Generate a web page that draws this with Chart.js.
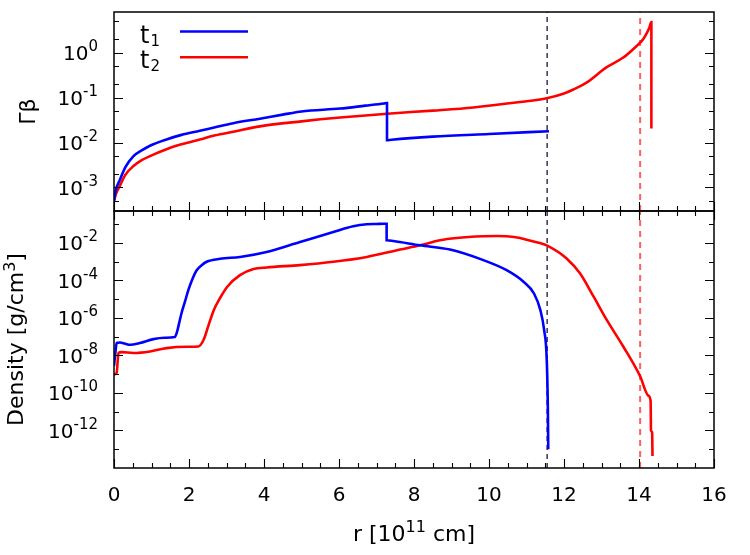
<!DOCTYPE html>
<html><head><meta charset="utf-8">
<script src="https://cdn.jsdelivr.net/npm/chart.js@4.4.1/dist/chart.umd.min.js"></script>
<style>
html,body{margin:0;padding:0;background:#fff;}
#wrap{position:relative;width:750px;height:555px;background:#fff;}
#wrap canvas{position:absolute;left:0;top:0;}
</style></head><body>
<div id="wrap"><canvas id="cTop" width="750" height="555"></canvas><canvas id="cBot" width="750" height="555"></canvas></div>
<script>
// ---------------- data ----------------
const seriesNames = ['t', 't'];
const seriesSubs = ['1', '2'];
const seriesColors = ['#0000ff', '#ff0000'];

// Top panel: Gamma*beta vs r [1e11 cm]
const rGammaT1 = [0, 0.05, 0.16, 0.3, 0.52, 0.75, 0.96, 1.4, 1.8, 2.29, 2.7, 3.18, 3.89, 4.5, 5.0, 6.03, 6.7, 7.2, 7.28, 7.28, 7.4, 8.5, 10.0, 11.6];
const gammaT1  = [5.0e-4, 8.9e-4, 1.5e-3, 2.8e-3, 5.0e-3, 6.8e-3, 8.5e-3, 1.17e-2, 1.48e-2, 1.82e-2, 2.19e-2, 2.69e-2, 3.39e-2, 4.17e-2, 4.9e-2, 5.69e-2, 6.61e-2, 7.41e-2, 7.59e-2, 1.12e-2, 1.15e-2, 1.35e-2, 1.55e-2, 1.78e-2];
const rGammaT2 = [0, 0.05, 0.16, 0.3, 0.52, 0.75, 0.96, 1.4, 1.8, 2.29, 2.7, 3.18, 3.89, 5.0, 6.03, 7.29, 8.5, 9.58, 10.83, 11.54, 12.0, 12.25, 12.6, 13.13, 13.58, 13.85, 14.03, 14.12, 14.2, 14.27, 14.33, 14.33];
const gammaT2  = [5.0e-4, 7.1e-4, 1.1e-3, 1.9e-3, 3.0e-3, 4.1e-3, 5.0e-3, 7.1e-3, 9.1e-3, 1.17e-2, 1.45e-2, 1.74e-2, 2.29e-2, 2.95e-2, 3.59e-2, 4.37e-2, 5.13e-2, 6.03e-2, 7.94e-2, 9.64e-2, 0.123, 0.151, 0.214, 0.468, 0.776, 1.20, 1.66, 2.04, 2.63, 3.47, 4.79, 2.04e-2];

// Bottom panel: density [g/cm^3] vs r
const rDensT1 = [0, 0.03, 0.07, 0.16, 0.3, 0.43, 0.69, 1.05, 1.35, 1.62, 1.68, 1.74, 1.8, 1.9, 1.98, 2.1, 2.2, 2.34, 2.47, 2.83, 3.36, 4.07, 4.96, 5.85, 6.38, 6.74, 7.0, 7.2, 7.27, 7.27, 7.45, 8.16, 8.96, 9.85, 10.47, 10.92, 11.2, 11.37, 11.47, 11.54, 11.57, 11.58];
const densT1  = [2.8e-9, 1.0e-8, 4.6e-8, 4.9e-8, 4.2e-8, 3.7e-8, 4.6e-8, 7.4e-8, 8.7e-8, 9.5e-8, 1.78e-7, 5.6e-7, 1.78e-6, 8.3e-6, 2.95e-5, 1.32e-4, 3.4e-4, 6.5e-4, 9.8e-4, 1.41e-3, 1.78e-3, 3.3e-3, 1.12e-2, 3.8e-2, 7.6e-2, 9.8e-2, 0.102, 0.105, 0.105, 1.38e-2, 1.26e-2, 7.4e-3, 4.4e-3, 1.2e-3, 3.5e-4, 8.5e-5, 2.0e-5, 2.6e-6, 2.3e-7, 5.9e-9, 1.3e-11, 1.0e-13];
const rDensT2 = [0, 0.07, 0.12, 0.2, 0.52, 0.96, 1.4, 1.94, 2.25, 2.39, 2.52, 2.66, 2.84, 3.02, 3.36, 3.72, 4.07, 4.96, 5.85, 6.74, 7.63, 8.16, 8.69, 9.14, 9.85, 10.2, 10.47, 10.83, 11.0, 11.36, 11.54, 12.07, 12.43, 12.79, 13.14, 13.58, 14.03, 14.25, 14.31, 14.32, 14.35, 14.36];
const densT2  = [9.5e-10, 1.17e-9, 1.35e-8, 1.51e-8, 1.35e-8, 1.62e-8, 2.45e-8, 2.9e-8, 3.0e-8, 6.8e-8, 4.0e-7, 2.6e-6, 1.26e-5, 4.6e-5, 1.9e-4, 4.0e-4, 4.9e-4, 6.5e-4, 9.8e-4, 1.78e-3, 4.4e-3, 7.4e-3, 1.38e-2, 1.82e-2, 2.24e-2, 2.32e-2, 2.24e-2, 1.82e-2, 1.48e-2, 9.8e-3, 7.4e-3, 1.48e-3, 2.3e-4, 1.35e-5, 7.8e-7, 3.0e-8, 7.8e-10, 7.1e-11, 3.6e-11, 1.0e-12, 7.9e-13, 4.4e-14];

// vertical reference markers (r positions)
const markerR = [11.55, 14.03];
const markerColors = ['#000033', '#ff6060'];

// axes / ticks / titles
const xRange = [0, 16];
const xMajorTicks = [0, 2, 4, 6, 8, 10, 12, 14, 16];
const xMinorStep = 0.5;
const topYRange = [3e-4, 8];
const topYMajorExp = [-3, -2, -1, 0];
const topYMinor = [5e-4, 2e-3, 5e-3, 2e-2, 5e-2, 0.2, 0.5, 2, 5];
const botYRange = [1e-14, 0.5];
const botYMajorExp = [-12, -10, -8, -6, -4, -2];
const botYMinorExp = [-13, -11, -9, -7, -5, -3, -1];
const xTitle = [['r [10', 0], ['11', 1], [' cm]', 0]];
const topYTitle = [['\u0393\u03B2', 0]];
const botYTitle = [['Density [g/cm', 0], ['3', 1], [']', 0]];

const FONT = 'DejaVu Sans';

// ---------------- helpers ----------------
function toXY(xs, ys){ return xs.map((x,i)=>({x:x, y:ys[i]})); }

function markerSets(yr){
  return markerR.map((r,i)=>({
    label: 'marker'+i,
    data: [{x:r, y:yr[0]}, {x:r, y:yr[1]}],
    borderColor: markerColors[i],
    borderWidth: i===0 ? 1.2 : 2,
    borderDash: i===0 ? [5,4] : [6,5],
    pointRadius: 0,
    cubicInterpolationMode: 'default',
    tension: 0
  }));
}
function seriesSet(i, xs, ys){
  return {label: seriesNames[i] + seriesSubs[i], data: toXY(xs, ys), borderColor: seriesColors[i], borderWidth: 2.6,
          pointRadius: 0, cubicInterpolationMode: 'monotone', fill:false};
}

// draw text with superscript parts; returns nothing. origin: center-aligned at (0,0) baseline
function richText(ctx, parts, size, supSize, supRise){
  const widths = parts.map(([t, s]) => { ctx.font = (s ? supSize : size) + 'px "' + FONT + '"'; return ctx.measureText(t).width; });
  const total = widths.reduce((a,b)=>a+b, 0);
  let x = -total / 2;
  ctx.textAlign = 'left'; ctx.textBaseline = 'alphabetic';
  parts.forEach(([t, s], i) => {
    ctx.font = (s ? supSize : size) + 'px "' + FONT + '"';
    ctx.fillText(t, x, s ? -supRise : 0);
    x += widths[i];
  });
}

const frameTicks = {
  id: 'frameTicks',
  afterDatasetsDraw(chart, args, o){
    const ctx = chart.ctx, a = chart.chartArea, xs = chart.scales.x, ys = chart.scales.y;
    ctx.save();
    ctx.strokeStyle = '#000'; ctx.lineWidth = 1.5;
    ctx.strokeRect(a.left, a.top, a.right - a.left, a.bottom - a.top);
    ctx.lineWidth = 1.1;
    ctx.beginPath();
    for (let v = xRange[0]; v <= xRange[1] + 1e-9; v += xMinorStep){
      const px = Math.round(xs.getPixelForValue(v)) + 0.5;
      const len = xMajorTicks.includes(v) ? 9 : 5;
      if (o.xBottom){ ctx.moveTo(px, a.bottom); ctx.lineTo(px, a.bottom - len); }
      if (o.xTop){ ctx.moveTo(px, a.top); ctx.lineTo(px, a.top + len); }
    }
    const yt = [];
    o.major.forEach(e => yt.push([Math.pow(10, e), 9]));
    o.minor.forEach(v => yt.push([v, 5]));
    yt.forEach(([v, len]) => {
      const py = Math.round(ys.getPixelForValue(v)) + 0.5;
      if (py < a.top - 0.5 || py > a.bottom + 0.5) return;
      ctx.moveTo(a.left, py); ctx.lineTo(a.left + len, py);
      ctx.moveTo(a.right, py); ctx.lineTo(a.right - len, py);
    });
    ctx.stroke();
    // y tick labels: 10^k
    ctx.fillStyle = '#000';
    o.major.forEach(e => {
      const py = ys.getPixelForValue(Math.pow(10, e));
      const base = '10', ex = String(e);
      ctx.font = '20px "' + FONT + '"';
      const wb = ctx.measureText(base).width;
      ctx.font = '15px "' + FONT + '"';
      const we = ctx.measureText(ex).width;
      const right = a.left - 16;
      ctx.textBaseline = 'alphabetic'; ctx.textAlign = 'left';
      ctx.font = '20px "' + FONT + '"';
      ctx.fillText(base, right - we - wb, py + 7.5);
      ctx.font = '15px "' + FONT + '"';
      ctx.fillText(ex, right - we, py - 1.5);
    });
    // y axis title (rotated)
    ctx.save();
    ctx.translate(o.yTitleX, (a.top + a.bottom) / 2);
    ctx.rotate(-Math.PI / 2);
    richText(ctx, o.yTitle, 22, 16, 8);
    ctx.restore();
    // x axis title
    if (o.xTitle){
      ctx.save();
      ctx.translate((a.left + a.right) / 2, a.bottom + 73);
      richText(ctx, o.xTitle, 22, 16, 9);
      ctx.restore();
    }
    ctx.restore();
  }
};

const legendDraw = {
  id: 'legendDraw',
  afterDatasetsDraw(chart, args, o){
    if (!o.show) return;
    const ctx = chart.ctx, a = chart.chartArea;
    ctx.save();
    [0,1].forEach(i => {
      const ds = chart.data.datasets[i];
      const y = a.top + 19.5 + i * 25.7;
      ctx.fillStyle = '#000';
      ctx.textBaseline = 'alphabetic'; ctx.textAlign = 'left';
      ctx.font = '24px "' + FONT + '"';
      const x0 = a.left + 26;
      ctx.fillText(seriesNames[i], x0, y + 11);
      const wt = ctx.measureText(seriesNames[i]).width;
      ctx.font = '15px "' + FONT + '"';
      ctx.fillText(seriesSubs[i], x0 + wt + 1, y + 14);
      ctx.strokeStyle = ds.borderColor; ctx.lineWidth = 2.4;
      ctx.beginPath(); ctx.moveTo(a.left + 66, y); ctx.lineTo(a.left + 134, y); ctx.stroke();
    });
    ctx.restore();
  }
};

Chart.defaults.font.family = FONT;
Chart.defaults.color = '#000';

new Chart(document.getElementById('cTop'), {
  type: 'line',
  data: { datasets: [ seriesSet(0, rGammaT1, gammaT1), seriesSet(1, rGammaT2, gammaT2), ...markerSets(topYRange) ] },
  options: {
    responsive: false, animation: false,
    layout: { padding: { left: 0, top: 12, right: 36, bottom: 344 } },
    plugins: { legend: { display: false }, tooltip: { enabled: false },
      frameTicks: { xBottom: true, xTop: false, major: topYMajorExp, minor: topYMinor, yTitle: topYTitle, yTitleX: 35 },
      legendDraw: { show: true } },
    scales: {
      x: { type: 'linear', min: xRange[0], max: xRange[1], display: false },
      y: { type: 'logarithmic', min: topYRange[0], max: topYRange[1],
        afterFit(s){ s.width = 114; },
        ticks: { display: false }, grid: { display: false, drawTicks: false }, border: { display: false } }
    }
  },
  plugins: [frameTicks, legendDraw]
});

new Chart(document.getElementById('cBot'), {
  type: 'line',
  data: { datasets: [ seriesSet(0, rDensT1, densT1), seriesSet(1, rDensT2, densT2), ...markerSets(botYRange) ] },
  options: {
    responsive: false, animation: false,
    layout: { padding: { left: 0, top: 211, right: 36, bottom: 0 } },
    plugins: { legend: { display: false }, tooltip: { enabled: false },
      frameTicks: { xBottom: true, xTop: true, major: botYMajorExp, minor: botYMinorExp.map(e => Math.pow(10, e)),
        yTitle: botYTitle, yTitleX: 23, xTitle: xTitle },
      legendDraw: { show: false } },
    scales: {
      x: { type: 'linear', min: xRange[0], max: xRange[1],
        afterBuildTicks(s){ s.ticks = xMajorTicks.map(v => ({value: v})); },
        afterFit(s){ s.height = 87; },
        ticks: { font: { size: 20, family: FONT }, color: '#000', padding: 16, maxRotation: 0, autoSkip: false },
        grid: { display: false, drawTicks: false }, border: { display: false } },
      y: { type: 'logarithmic', min: botYRange[0], max: botYRange[1],
        afterFit(s){ s.width = 114; },
        ticks: { display: false }, grid: { display: false, drawTicks: false }, border: { display: false } }
    }
  },
  plugins: [frameTicks, legendDraw]
});
</script>
</body></html>
